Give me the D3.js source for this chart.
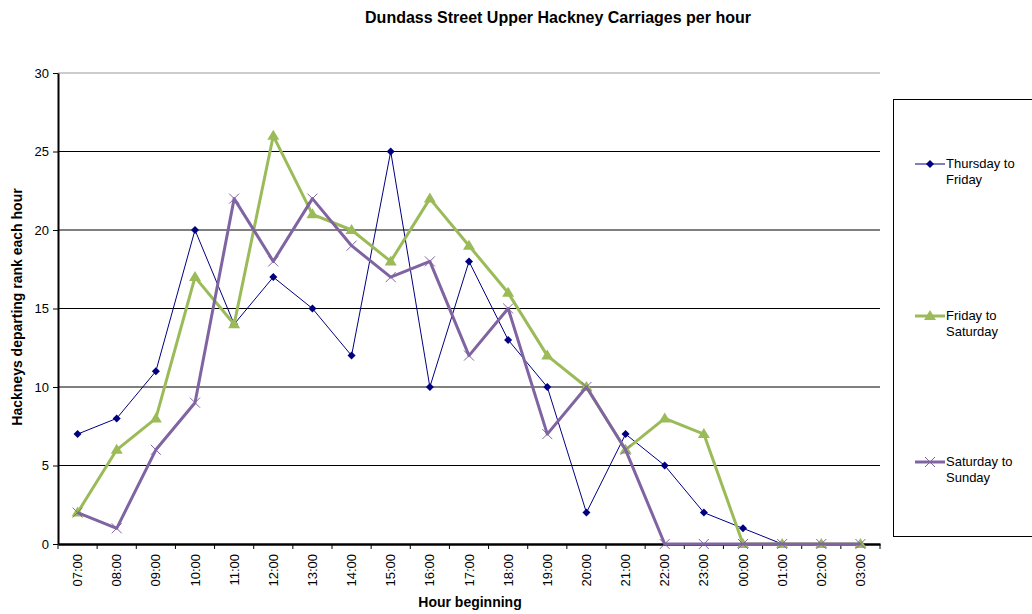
<!DOCTYPE html>
<html>
<head>
<meta charset="utf-8">
<script src="https://cdn.jsdelivr.net/npm/d3@7"></script>
<style>
  body { margin: 0; background: #fff; }
  svg { font-family: "Liberation Sans", Arial, sans-serif; }
</style>
</head>
<body>
<svg id="chart" width="1032" height="614"></svg>
<script>
// Hour categories
const hours = ['07:00', '08:00', '09:00', '10:00', '11:00', '12:00', '13:00', '14:00', '15:00', '16:00',
    '17:00', '18:00', '19:00', '20:00', '21:00', '22:00', '23:00', '00:00', '01:00', '02:00', '03:00'];

// Series values
const thuFri = [7, 8, 11, 20, 14, 17, 15, 12, 25, 10, 18, 13, 10, 2, 7, 5, 2, 1, 0, 0, 0];
const friSat = [2, 6, 8, 17, 14, 26, 21, 20, 18, 22, 19, 16, 12, 10, 6, 8, 7, 0, 0, 0, 0];
const satSun = [2, 1, 6, 9, 22, 18, 22, 19, 17, 18, 12, 15, 7, 10, 6, 0, 0, 0, 0, 0, 0];

const yTicks = [0, 5, 10, 15, 20, 25, 30];

const series = [
    { name: ['Thursday to', 'Friday'], values: thuFri, color: '#000080', width: 1, marker: 'diamond' },
    { name: ['Friday to', 'Saturday'], values: friSat, color: '#9BBB59', width: 3, marker: 'triangle' },
    { name: ['Saturday to', 'Sunday'], values: satSun, color: '#8064A2', width: 3, marker: 'cross' }
];

const svg = d3.select('#chart');
const margin = { top: 73, right: 152, bottom: 70, left: 58 };
const width = 1032 - margin.left - margin.right;
const height = 614 - margin.top - margin.bottom;

const g = svg.append('g').attr('transform', `translate(${margin.left},${margin.top})`);

const xScale = d3.scaleBand().domain(hours).range([0, width]);
const yScale = d3.scaleLinear().domain([0, 30]).range([height, 0]);

// Gridlines
g.selectAll('.grid')
    .data(yTicks.filter(d => d > 0))
    .enter()
    .append('line')
    .attr('x1', 0)
    .attr('x2', width)
    .attr('y1', d => yScale(d))
    .attr('y2', d => yScale(d))
    .attr('stroke', d => d === 30 ? '#999' : '#000')
    .attr('stroke-width', 1);

// Y axis
const yAxis = g.append('g')
    .call(d3.axisLeft(yScale).tickValues(yTicks).tickSize(5).tickSizeOuter(0));
yAxis.select('.domain').attr('stroke', '#000').attr('stroke-width', 2);
yAxis.selectAll('.tick line').attr('stroke', '#000');
yAxis.selectAll('text').style('font-size', '13px').attr('fill', '#000').attr('x', -9);

// X axis
const xAxis = g.append('g')
    .attr('transform', `translate(0,${height})`)
    .call(d3.axisBottom(xScale).tickSize(0).tickSizeOuter(0));
xAxis.select('.domain').attr('stroke', '#000').attr('stroke-width', 2.5);
xAxis.selectAll('text')
    .style('font-size', '13px')
    .attr('fill', '#000')
    .attr('transform', 'rotate(-90)')
    .attr('text-anchor', 'end')
    .attr('x', -10)
    .attr('y', 0)
    .attr('dy', '0.35em');

// Category boundary ticks
g.selectAll('.xtick')
    .data(d3.range(hours.length + 1))
    .enter()
    .append('line')
    .attr('x1', i => i * xScale.step())
    .attr('x2', i => i * xScale.step())
    .attr('y1', height)
    .attr('y2', height + 5)
    .attr('stroke', '#000');

const cx = d => xScale(d) + xScale.bandwidth() / 2;

const line = d3.line()
    .x((d, i) => cx(hours[i]))
    .y(d => yScale(d));

function drawMarker(sel, s, x, y) {
    if (s.marker === 'diamond') {
        sel.append('path')
            .attr('d', `M${x},${y - 4}L${x + 4},${y}L${x},${y + 4}L${x - 4},${y}Z`)
            .attr('fill', s.color);
    } else if (s.marker === 'triangle') {
        sel.append('path')
            .attr('d', `M${x},${y - 6}L${x + 6},${y + 4}L${x - 6},${y + 4}Z`)
            .attr('fill', s.color);
    } else {
        sel.append('path')
            .attr('d', `M${x - 5},${y - 5}L${x + 5},${y + 5}M${x - 5},${y + 5}L${x + 5},${y - 5}`)
            .attr('stroke', s.color)
            .attr('stroke-width', 1);
    }
}

series.forEach(s => {
    g.append('path')
        .datum(s.values)
        .attr('fill', 'none')
        .attr('stroke', s.color)
        .attr('stroke-width', s.width)
        .attr('stroke-linejoin', 'round')
        .attr('d', line);
    const mg = g.append('g');
    s.values.forEach((v, i) => drawMarker(mg, s, cx(hours[i]), yScale(v)));
});

// Title
svg.append('text')
    .attr('x', 558)
    .attr('y', 23)
    .attr('text-anchor', 'middle')
    .style('font-size', '16px')
    .style('font-weight', 'bold')
    .text('Dundass Street Upper Hackney Carriages per hour');

// Axis labels
svg.append('text')
    .attr('x', 470)
    .attr('y', 607)
    .attr('text-anchor', 'middle')
    .style('font-size', '14px')
    .style('font-weight', 'bold')
    .text('Hour beginning');

svg.append('text')
    .attr('transform', `translate(22,307) rotate(-90)`)
    .attr('text-anchor', 'middle')
    .style('font-size', '14px')
    .style('font-weight', 'bold')
    .text('Hackneys departing rank each hour');

// Legend
const legend = svg.append('g');
legend.append('rect')
    .attr('x', 893.5)
    .attr('y', 99.5)
    .attr('width', 150)
    .attr('height', 437)
    .attr('fill', '#fff')
    .attr('stroke', '#000');

const legendY = [164, 316, 462];
series.forEach((s, i) => {
    const y = legendY[i];
    legend.append('line')
        .attr('x1', 915).attr('x2', 945)
        .attr('y1', y).attr('y2', y)
        .attr('stroke', s.color)
        .attr('stroke-width', s.width);
    drawMarker(legend, s, 930, y);
    s.name.forEach((t, j) => {
        legend.append('text')
            .attr('x', 946)
            .attr('y', y + 4 + j * 16)
            .style('font-size', '13px')
            .text(t);
    });
});
</script>
</body>
</html>
